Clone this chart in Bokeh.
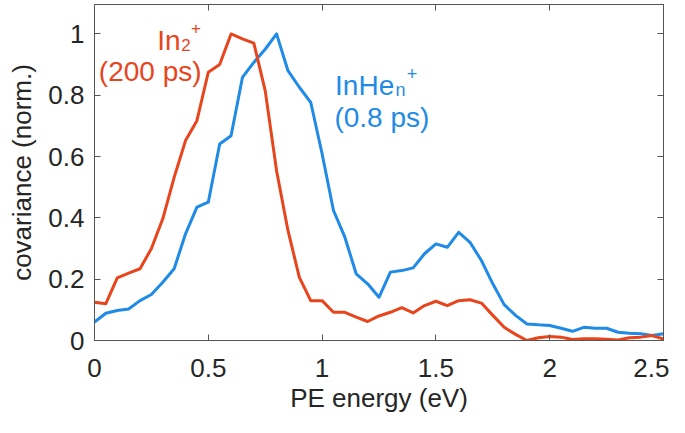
from bokeh.plotting import figure
from bokeh.models import Range1d, LinearAxis, Label, FixedTicker
from bokeh.embed import file_html
from bokeh.resources import INLINE

# ---- data ----
energy = [0.00, 0.05, 0.10, 0.15, 0.20, 0.25, 0.30, 0.35, 0.40, 0.45,
          0.50, 0.55, 0.60, 0.65, 0.70, 0.75, 0.80, 0.85, 0.90, 0.95,
          1.00, 1.05, 1.10, 1.15, 1.20, 1.25, 1.30, 1.35, 1.40, 1.45,
          1.50, 1.55, 1.60, 1.65, 1.70, 1.75, 1.80, 1.85, 1.90, 1.95,
          2.00, 2.05, 2.10, 2.15, 2.20, 2.25, 2.30, 2.35, 2.40, 2.45, 2.50]

in2 = [0.125, 0.120, 0.204, 0.220, 0.234, 0.300, 0.397, 0.532, 0.652, 0.717,
       0.875, 0.900, 1.000, 0.984, 0.970, 0.815, 0.554, 0.359, 0.206, 0.130,
       0.130, 0.092, 0.092, 0.076, 0.062, 0.080, 0.092, 0.107, 0.090, 0.114,
       0.128, 0.114, 0.130, 0.133, 0.122, 0.082, 0.043, 0.020, 0.000, 0.009,
       0.013, 0.011, 0.003, 0.006, 0.006, 0.004, 0.002, 0.009, 0.011, 0.016, 0.005]

inhen = [0.060, 0.089, 0.098, 0.103, 0.130, 0.150, 0.190, 0.234, 0.348, 0.435,
         0.451, 0.641, 0.668, 0.858, 0.907, 0.950, 1.000, 0.880, 0.826, 0.777,
         0.609, 0.424, 0.337, 0.217, 0.185, 0.141, 0.223, 0.228, 0.237, 0.283,
         0.315, 0.304, 0.353, 0.320, 0.261, 0.185, 0.117, 0.082, 0.054, 0.051,
         0.049, 0.040, 0.030, 0.043, 0.040, 0.040, 0.027, 0.024, 0.022, 0.016, 0.022]

x_ticks = [0, 0.5, 1, 1.5, 2, 2.5]
y_ticks = [0, 0.2, 0.4, 0.6, 0.8, 1]
x_tick_labels = ["0", "0.5", "1", "1.5", "2", "2.5"]
y_tick_labels = ["0", "0.2", "0.4", "0.6", "0.8", "1"]

RED = "#E8451D"
BLUE = "#1F8BE6"
AX = "#555555"
TXT = "#262626"
FONT = "Liberation Sans"

p = figure(width=669, height=417, output_backend="svg", toolbar_location=None,
           x_range=Range1d(0, 2.5), y_range=Range1d(0, 1.096),
           min_border_left=94, min_border_right=6, min_border_top=4,
           min_border_bottom=77, background_fill_color="white",
           border_fill_color="white", outline_line_color=AX, outline_line_width=1)
p.grid.visible = False

p.line(energy, inhen, line_color=BLUE, line_width=3, line_join="round")
p.line(energy, in2, line_color=RED, line_width=3, line_join="round")

def style_axis(ax, ticks, labels=None):
    ax.ticker = FixedTicker(ticks=ticks)
    ax.axis_line_color = AX
    ax.major_tick_line_color = AX
    ax.major_tick_in = 6
    ax.major_tick_out = 0
    ax.minor_tick_line_color = None
    ax.major_label_text_font = FONT
    ax.major_label_text_color = TXT
    ax.axis_label_text_font = FONT
    ax.axis_label_text_color = TXT
    ax.axis_label_text_font_style = "normal"
    ax.axis_label_text_font_size = "26px"
    ax.major_label_text_font_size = "26px"
    if labels is None:
        ax.major_label_overrides = {t: "" for t in ticks}
        ax.major_label_standoff = 0
        ax.major_label_text_font_size = "1px"
    else:
        ax.major_label_overrides = dict(zip(ticks, labels))

xa = p.xaxis[0]
style_axis(xa, x_ticks, x_tick_labels)
xa.axis_label = "PE energy (eV)"
xa.major_label_standoff = 18
xa.axis_label_standoff = 3

ya = p.yaxis[0]
style_axis(ya, y_ticks, y_tick_labels)
ya.axis_label = "covariance (norm.)"
ya.major_label_standoff = 10
ya.axis_label_standoff = 8

ra = LinearAxis()
style_axis(ra, y_ticks)
p.add_layout(ra, "right")

ta = LinearAxis()
style_axis(ta, x_ticks)
p.add_layout(ta, "above")

# ---- annotations ----
def lab(x, y, text, color, size):
    p.add_layout(Label(x=x, y=y, text=text, text_color=color, text_font=FONT,
                       text_font_size=size, text_align="left",
                       text_baseline="alphabetic"))

lab(0.276, 0.978, "In", RED, "28px")
lab(0.381, 0.964, "2", RED, "17px")
lab(0.424, 1.019, "+", RED, "17px")
lab(0.019, 0.877, "(200 ps)", RED, "28px")

lab(1.057, 0.831, "InHe", BLUE, "28px")
lab(1.322, 0.818, "n", BLUE, "18px")
lab(1.372, 0.871, "+", BLUE, "18px")
lab(1.054, 0.728, "(0.8 ps)", BLUE, "28px")

open("out.html", "w").write(file_html(p, INLINE))
